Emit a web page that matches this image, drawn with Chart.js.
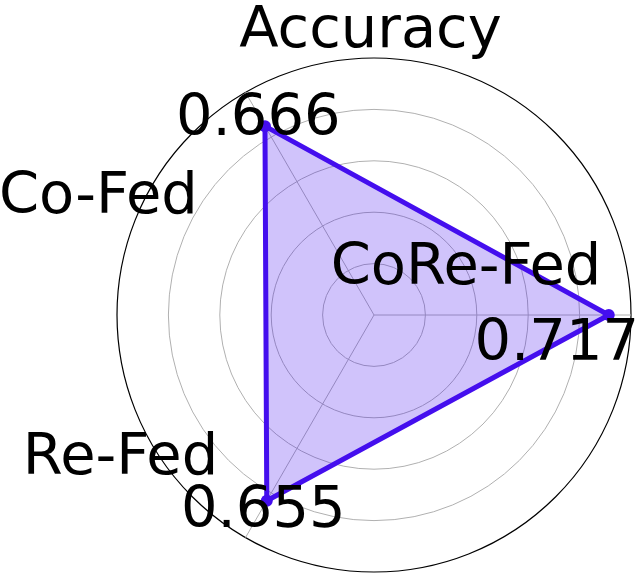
<!DOCTYPE html>
<html>
<head>
<meta charset="utf-8">
<script src="https://cdn.jsdelivr.net/npm/chart.js@4/dist/chart.umd.min.js"></script>
<style>
    html, body { margin: 0; padding: 0; background: #ffffff; }
    #wrap { width: 642px; height: 577px; }
</style>
</head>
<body>
<div id="wrap"><canvas id="radar"></canvas></div>
<script>
// categories go clockwise starting from the right (Chart.js radar is clockwise)
const categories = ['CoRe-Fed', 'Re-Fed', 'Co-Fed'];
const accuracy = [0.717, 0.655, 0.666];
const metricName = 'Accuracy';
const radialMin = 0;
const radialMax = 0.785;
const ringCount = 6; // ticks incl. centre and outer circle

const lineColor = 'rgb(68, 14, 238)';
const fillColor = 'rgba(68, 14, 238, 0.25)';
const textFont = '57.5px "DejaVu Sans"';

// text offsets (px) - category labels from the centre, value labels from their point
const catOffsets = {
    'CoRe-Fed': [92, -31],
    'Re-Fed': [-253.5, 159],
    'Co-Fed': [-275.6, -102.3]
};
const valOffsets = [[-52, 45], [-3.5, 26], [-6.7, 8.4]];

const labelPlugin = {
    id: 'radarText',
    afterDatasetsDraw(chart) {
        const ctx = chart.ctx;
        const scale = chart.scales.r;
        const meta = chart.getDatasetMeta(0);
        ctx.save();
        ctx.font = textFont;
        ctx.fillStyle = '#000000';
        ctx.textAlign = 'center';
        ctx.textBaseline = 'alphabetic';
        // title
        ctx.fillText(metricName, scale.xCenter - 3.5, scale.yCenter - 268);
        categories.forEach((name, i) => {
            const off = catOffsets[name];
            ctx.fillText(name, scale.xCenter + off[0], scale.yCenter + off[1]);
            const pt = meta.data[i];
            ctx.fillText(accuracy[i].toFixed(3), pt.x + valOffsets[i][0], pt.y + valOffsets[i][1]);
        });
        ctx.restore();
    }
};

const chart = new Chart(document.getElementById('radar'), {
    type: 'radar',
    data: {
        labels: categories,
        datasets: [{
            label: metricName,
            data: accuracy,
            borderColor: lineColor,
            backgroundColor: fillColor,
            borderWidth: 5,
            fill: true,
            pointRadius: 6,
            pointBackgroundColor: lineColor,
            pointBorderColor: lineColor,
            pointBorderWidth: 0
        }]
    },
    options: {
        responsive: true,
        maintainAspectRatio: false,
        animation: false,
        layout: {
            padding: { left: 117, right: 10, top: 58, bottom: 4 }
        },
        plugins: {
            legend: { display: false },
            tooltip: { enabled: false }
        },
        scales: {
            r: {
                min: radialMin,
                max: radialMax,
                startAngle: 90,
                ticks: { display: false, count: ringCount },
                pointLabels: { display: false },
                angleLines: { color: '#b0b0b0', lineWidth: 1 },
                grid: {
                    circular: true,
                    color: (c) => c.index === ringCount - 1 ? '#000000' : '#b0b0b0',
                    lineWidth: (c) => c.index === ringCount - 1 ? 1.2 : 1
                }
            }
        }
    },
    plugins: [labelPlugin]
});
</script>
</body>
</html>
